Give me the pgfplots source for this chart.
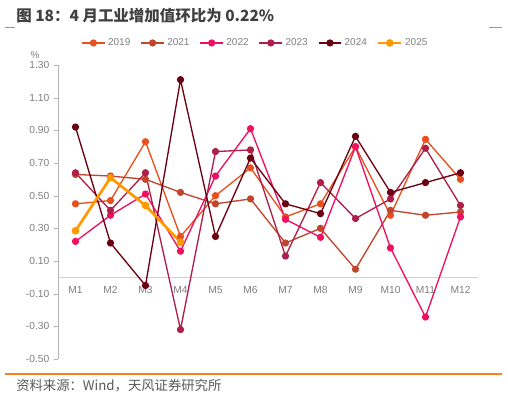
\documentclass[border=0pt]{standalone}
\usepackage{fontspec}
\setmainfont{Liberation Sans}
\newfontfamily\cjk{Noto Sans CJK SC}
\usepackage{pgfplots}
\pgfplotsset{compat=1.18}
\definecolor{c19}{HTML}{E8501E}
\definecolor{c21}{HTML}{C0452D}
\definecolor{c22}{HTML}{F01060}
\definecolor{c23}{HTML}{AE2049}
\definecolor{c24}{HTML}{6B0010}
\definecolor{c25}{HTML}{FF9900}
\definecolor{org}{HTML}{F5821F}
\definecolor{tk}{HTML}{7F7F7F}
\begin{document}
\begin{tikzpicture}
\path[use as bounding box] (0,0) rectangle (381pt,298.5pt);
% title
\node[anchor=base west, inner sep=0pt, text=black!75] at (12pt,282pt) {\cjk\bfseries\fontsize{11.6pt}{14pt}\selectfont 图 18：4 月工业增加值环比为 0.22\%};
\draw[org, line width=1.1pt] (3.75pt,277.7pt) -- (11.25pt,277.7pt);
\draw[org, line width=1.1pt] (366.75pt,277.7pt) -- (376.5pt,277.7pt);
\draw[org, line width=1.1pt] (3.75pt,18pt) -- (376.5pt,18pt);
\node[anchor=base west, inner sep=0pt, text=black!65] at (12pt,5.3pt) {\cjk\fontsize{10pt}{11pt}\selectfont 资料来源：Wind，天风证券研究所};
\node[inner sep=0pt, text=tk, font=\fontsize{7.5pt}{9pt}\selectfont] at (26.25pt,257pt) {\%};
\begin{axis}[
  at={(43.5pt,29.25pt)}, anchor=south west,
  scale only axis, width=315pt, height=220.5pt,
  xmin=0.5, xmax=12.5, ymin=-0.5, ymax=1.3,
  axis x line=none,
  axis y line*=left,
  y axis line style={draw=black!30},
  ytick={-0.5,-0.3,-0.1,0.1,0.3,0.5,0.7,0.9,1.1,1.3},
  yticklabels={-0.50,-0.30,-0.10,0.10,0.30,0.50,0.70,0.90,1.10,1.30},
  ytick align=outside, major tick length=3pt,
  ytick style={draw=black!30},
  yticklabel style={text=tk, font=\fontsize{7.7pt}{9pt}\selectfont},
  clip=false,
  legend columns=6,
  legend style={at={(axis description cs:0.055,1.075)}, anchor=west, draw=none, fill=none, inner sep=0pt,
    font=\fontsize{7.5pt}{9pt}\selectfont, text=tk,
    /tikz/every even column/.append style={column sep=5.6pt}},
  every axis plot/.append style={line width=1pt, mark=*, mark size=2.2pt},
]
\draw[black!18, line width=0.8pt] (axis cs:0.5,0) -- (axis cs:12.5,0);
\pgfplotsinvokeforeach{1,...,12}{\node[anchor=north, inner sep=0pt, text=tk, font=\fontsize{7.7pt}{9pt}\selectfont] at (axis cs:#1,0) [yshift=-6.3pt] {M#1};}
\addplot[c19, mark options={fill=c19}] coordinates {(1,0.45)(2,0.47)(3,0.83)(4,0.25)(5,0.50)(6,0.67)(7,0.37)(8,0.45)(9,0.80)(10,0.38)(11,0.845)(12,0.60)};
\addlegendentry{2019}
\addplot[c21, mark options={fill=c21}] coordinates {(1,0.63)(2,0.62)(3,0.60)(4,0.52)(5,0.45)(6,0.48)(7,0.21)(8,0.30)(9,0.05)(10,0.41)(11,0.38)(12,0.40)};
\addlegendentry{2021}
\addplot[c22, mark options={fill=c22}] coordinates {(1,0.22)(2,0.38)(3,0.51)(4,0.16)(5,0.62)(6,0.91)(7,0.355)(8,0.245)(9,0.80)(10,0.18)(11,-0.243)(12,0.37)};
\addlegendentry{2022}
\addplot[c23, mark options={fill=c23}] coordinates {(1,0.64)(2,0.41)(3,0.64)(4,-0.32)(5,0.77)(6,0.78)(7,0.13)(8,0.58)(9,0.36)(10,0.48)(11,0.79)(12,0.44)};
\addlegendentry{2023}
\addplot[c24, mark options={fill=c24}] coordinates {(1,0.92)(2,0.21)(3,-0.05)(4,1.21)(5,0.25)(6,0.73)(7,0.45)(8,0.39)(9,0.863)(10,0.52)(11,0.58)(12,0.64)};
\addlegendentry{2024}
\addplot[c25, line width=2pt, mark options={fill=c25}, mark size=1.8pt] coordinates {(1,0.285)(2,0.61)(3,0.44)(4,0.215)};
\addlegendentry{2025}
\end{axis}
\end{tikzpicture}
\end{document}
